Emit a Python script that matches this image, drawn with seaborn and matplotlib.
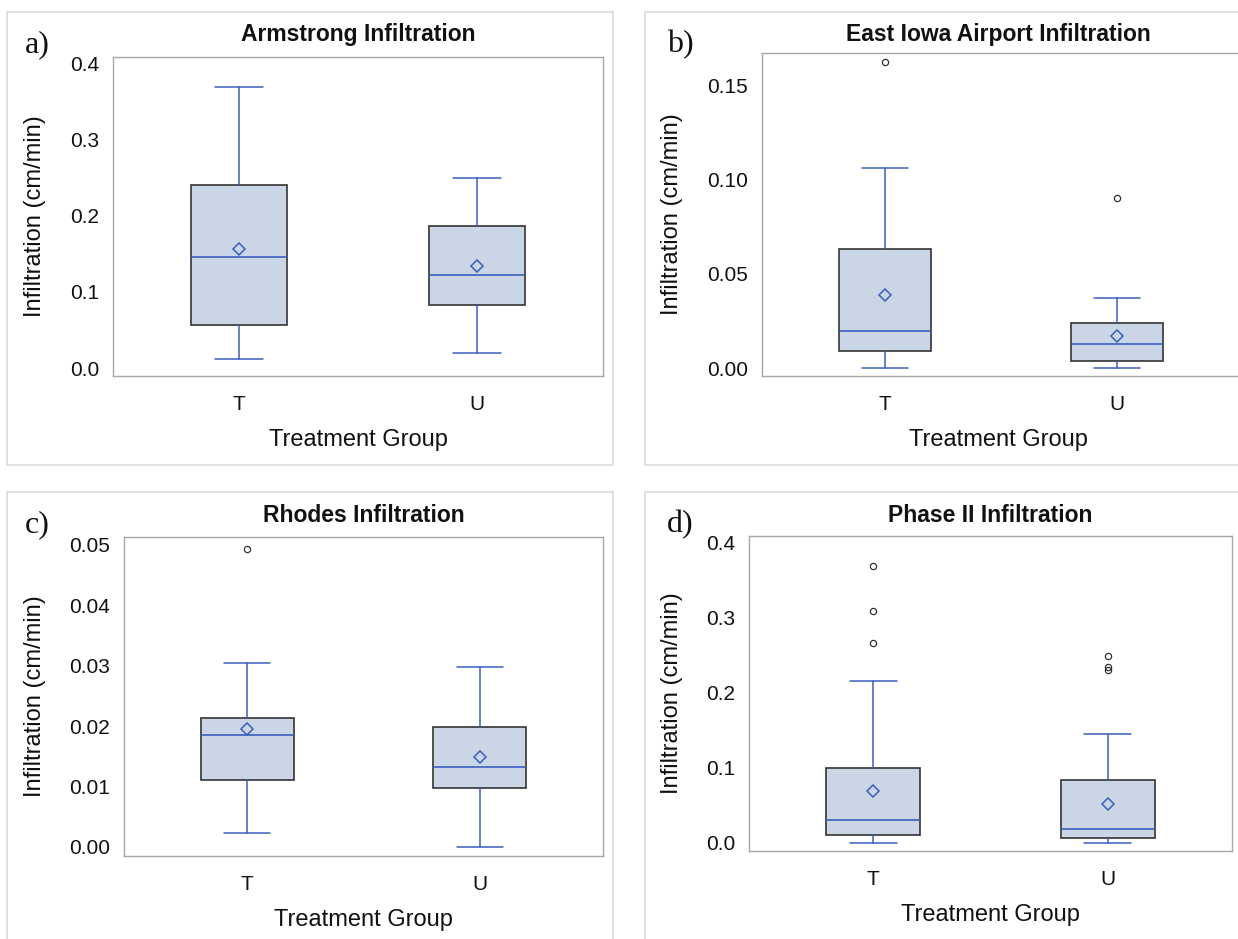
import matplotlib
matplotlib.use("Agg")
import matplotlib.pyplot as plt
import seaborn as sns
from matplotlib.patches import Rectangle
from matplotlib.ticker import FormatStrFormatter

sns.set_theme(style="white")
plt.rcParams['font.family'] = ['Liberation Sans', 'DejaVu Sans']

groups = ["T", "U"]

# Armstrong
arm_lo = [0.012, 0.020]
arm_q1 = [0.057, 0.083]
arm_med = [0.146, 0.122]
arm_q3 = [0.241, 0.187]
arm_hi = [0.370, 0.250]
arm_mean = [0.157, 0.134]
arm_out = [[], []]

# East Iowa Airport
eia_lo = [0.0, 0.0]
eia_q1 = [0.009, 0.0037]
eia_med = [0.0196, 0.0127]
eia_q3 = [0.063, 0.0239]
eia_hi = [0.106, 0.037]
eia_mean = [0.0387, 0.017]
eia_out = [[0.162], [0.090]]

# Rhodes
rho_lo = [0.0023, 0.0]
rho_q1 = [0.0111, 0.0098]
rho_med = [0.0185, 0.0132]
rho_q3 = [0.0214, 0.0199]
rho_hi = [0.0305, 0.0298]
rho_mean = [0.0195, 0.0149]
rho_out = [[0.0493], []]

# Phase II
ph2_lo = [0.0, 0.0]
ph2_q1 = [0.0107, 0.0067]
ph2_med = [0.0307, 0.0187]
ph2_q3 = [0.100, 0.084]
ph2_hi = [0.216, 0.145]
ph2_mean = [0.0693, 0.052]
ph2_out = [[0.369, 0.309, 0.267], [0.249, 0.235, 0.230]]

W, H = 1238, 939
fig = plt.figure(figsize=(W / 100, H / 100), dpi=100)


def px_axes(l, r, t, b):
    return fig.add_axes([l / W, 1 - b / H, (r - l) / W, (b - t) / H])


def panel_border(l, r, t, b):
    fig.add_artist(Rectangle((l / W, 1 - b / H), (r - l) / W, (b - t) / H,
                             transform=fig.transFigure, fill=False,
                             edgecolor="#DCDCDC", linewidth=1.2))


blue = "#3A5FC0"
panels = [
    dict(title="Armstrong Infiltration", tag="a)",
         stats=(arm_lo, arm_q1, arm_med, arm_q3, arm_hi, arm_mean, arm_out),
         ax=(113, 603, 57, 376), border=(7, 613, 12, 465),
         ylim=(-0.0105, 0.409), ticks=[0, 0.1, 0.2, 0.3, 0.4], fmt="%.1f",
         tagpos=(25, 45), titley=35, ylabx=35, xlaby=440),
    dict(title="East Iowa Airport Infiltration", tag="b)",
         stats=(eia_lo, eia_q1, eia_med, eia_q3, eia_hi, eia_mean, eia_out),
         ax=(762, 1240, 53, 376), border=(645, 1250, 12, 465),
         ylim=(-0.0042, 0.167), ticks=[0, 0.05, 0.10, 0.15], fmt="%.2f",
         tagpos=(667, 45), titley=35, ylabx=672, xlaby=440),
    dict(title="Rhodes Infiltration", tag="c)",
         stats=(rho_lo, rho_q1, rho_med, rho_q3, rho_hi, rho_mean, rho_out),
         ax=(124, 603, 537, 856), border=(7, 613, 492, 960),
         ylim=(-0.0015, 0.0513), ticks=[0, 0.01, 0.02, 0.03, 0.04, 0.05], fmt="%.2f",
         tagpos=(25, 525), titley=515, ylabx=35, xlaby=920),
    dict(title="Phase II Infiltration", tag="d)",
         stats=(ph2_lo, ph2_q1, ph2_med, ph2_q3, ph2_hi, ph2_mean, ph2_out),
         ax=(749, 1232, 536, 851), border=(645, 1250, 492, 960),
         ylim=(-0.0107, 0.409), ticks=[0, 0.1, 0.2, 0.3, 0.4], fmt="%.1f",
         tagpos=(667, 525), titley=515, ylabx=672, xlaby=915),
]

for p in panels:
    panel_border(*p["border"])
    l, r, t, b = p["ax"]
    ax = px_axes(l, r, t, b)
    lo, q1, med, q3, hi, mean, out = p["stats"]
    bstats = []
    for i, g in enumerate(groups):
        bstats.append(dict(label=g, whislo=lo[i], q1=q1[i], med=med[i], q3=q3[i],
                           whishi=hi[i], mean=mean[i], fliers=out[i]))
    ax.bxp(bstats, positions=[0, 1], widths=0.4, capwidths=0.2,
           patch_artist=True, showmeans=True,
           boxprops=dict(facecolor="#CAD5E6", edgecolor="#333333", linewidth=1.2),
           medianprops=dict(color=blue, linewidth=1.2),
           whiskerprops=dict(color=blue, linewidth=1.1),
           capprops=dict(color=blue, linewidth=1.1),
           meanprops=dict(marker="D", markerfacecolor="none", markeredgecolor=blue,
                          markersize=6, markeredgewidth=1.1),
           flierprops=dict(marker="o", markerfacecolor="none", markeredgecolor="#333333",
                           markersize=4.5, markeredgewidth=0.9))
    ax.set_xlim(-0.53, 1.53)
    ax.set_ylim(*p["ylim"])
    ax.set_yticks(p["ticks"])
    ax.yaxis.set_major_formatter(FormatStrFormatter(p["fmt"]))
    ax.set_xticks([0, 1])
    ax.set_xticklabels(groups)
    for s in ax.spines.values():
        s.set_color("#A8A8A8")
        s.set_linewidth(1.0)
    ax.tick_params(axis="both", which="major", direction="out", length=6,
                   width=1, color="#A8A8A8", labelsize=15, labelcolor="#111111")
    ax.tick_params(axis="x", pad=8)
    ax.tick_params(axis="y", pad=4)
    ax.set_facecolor("white")

    cx = (l + r) / 2 / W
    if p["tag"] == "b)":
        cx = 998 / W
    fig.text(cx, 1 - p["titley"] / H, p["title"], ha="center", va="center",
             fontsize=16.5, fontweight="bold", color="#111111")
    fig.text(p["ylabx"] / W, 1 - (t + b) / 2 / H, "Infiltration (cm/min)", rotation=90,
             ha="center", va="center", fontsize=17, color="#111111")
    fig.text(cx, 1 - p["xlaby"] / H, "Treatment Group", ha="center", va="center",
             fontsize=17, color="#111111")
    fig.text(p["tagpos"][0] / W, 1 - p["tagpos"][1] / H, p["tag"], ha="left",
             va="center", fontsize=23, family="Liberation Serif", color="#111111")

fig.savefig("out.png", dpi=100, facecolor="white")
